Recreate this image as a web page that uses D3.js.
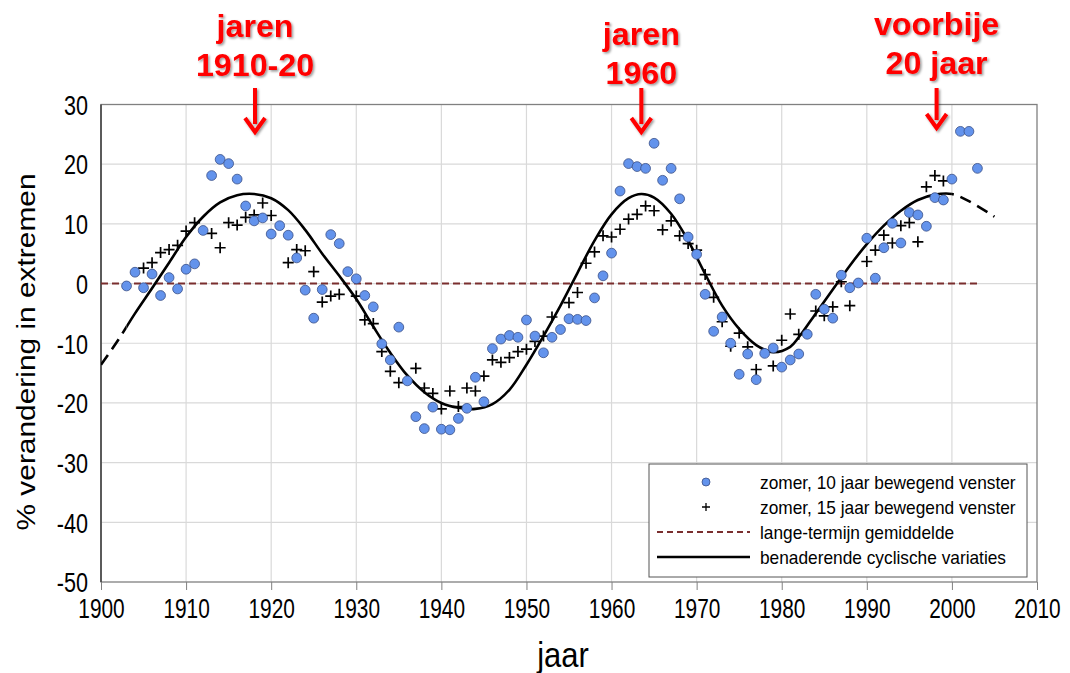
<!DOCTYPE html>
<html>
<head>
<meta charset="utf-8">
<script src="https://cdn.jsdelivr.net/npm/d3@7"></script>
<style>
  html, body { margin: 0; padding: 0; background: #ffffff; }
  svg { display: block; font-family: "Liberation Sans", Arial, sans-serif; }
</style>
</head>
<body>
<svg id="chart" width="1070" height="673"></svg>
<script>
// ---------- data ----------
const years10 = d3.range(1903, 2004);
const values10 = [
  -0.4, 1.9, -0.7, 1.6, -2.0, 1.0, -0.9, 2.4, 3.3, 8.9,        // 1903-1912
  18.1, 20.8, 20.1, 17.5, 13.0, 10.5, 11.0, 8.3, 9.7, 8.1,     // 1913-1922
  4.3, -1.1, -5.8, -1.0, 8.2, 6.7, 2.0, 0.8, -2.0, -3.9,       // 1923-1932
  -10.1, -12.8, -7.3, -16.3, -22.3, -24.3, -20.7, -24.4, -24.5, -22.6, // 1933-1942
  -20.9, -15.7, -19.8, -10.9, -9.3, -8.7, -9.0, -6.1, -8.8, -11.6,     // 1943-1952
  -9.0, -7.7, -5.9, -6.0, -6.2, -2.4, 1.3, 5.1, 15.5, 20.1,    // 1953-1962
  19.6, 19.3, 23.5, 17.3, 19.3, 14.2, 7.8, 4.9, -1.8, -8.0,    // 1963-1972
  -5.6, -10.0, -15.2, -11.8, -16.1, -11.7, -10.8, -14.0, -12.8, -11.8, // 1973-1982
  -8.5, -1.8, -4.3, -5.8, 1.4, -0.7, 0.1, 7.6, 0.9, 6.0,       // 1983-1992
  10.1, 6.8, 11.9, 11.5, 9.6, 14.4, 14.0, 17.5, 25.5, 25.5,    // 1993-2002
  19.3                                                          // 2003
];

const years15 = d3.range(1905, 2000);
const values15 = [
  2.6, 3.5, 5.2, 5.7, 6.4, 8.8, 10.2, null, 8.4, 6.0,          // 1905-1914
  10.2, 9.8, 11.1, 11.5, 13.5, 11.4, null, 3.5, 5.7, 5.5,      // 1915-1924
  2.0, -3.1, -2.1, -1.8, null, -2.1, -6.1, -6.7, -11.4, -14.7, // 1925-1934
  -16.6, null, -14.2, -17.5, -18.4, -21.0, -18.0, -20.6, -17.5, -18.0, // 1935-1944
  -15.5, -12.8, -13.2, -12.4, -11.4, -11.0, -9.7, -8.8, -5.6, null,    // 1945-1954
  -3.2, -1.5, 3.4, 5.3, 8.0, 7.8, 9.1, 10.8, 11.6, 13.0,       // 1955-1964
  12.2, 9.0, 10.5, 8.0, 6.7, 5.6, 1.5, -2.3, -6.4, -10.5,      // 1965-1974
  -8.3, -10.6, -14.4, null, -13.8, -9.5, -5.1, -8.5, null, -4.6, // 1975-1984
  -5.4, -3.9, 0.3, -3.7, null, 3.7, 5.6, 8.1, 6.8, 9.7,        // 1985-1994
  10.2, 7.0, 16.2, 18.1, 17.2                                   // 1995-1999
];

const cycleYears = [1900, 1902, 1904, 1906, 1908, 1910, 1912, 1914, 1916, 1918,
  1920, 1922, 1924, 1926, 1928, 1930, 1932, 1934, 1936, 1938, 1940, 1942, 1944,
  1946, 1948, 1950, 1952, 1954, 1956, 1958, 1960, 1962, 1963.5, 1965, 1967, 1969,
  1971, 1973, 1975, 1977, 1979, 1981, 1982, 1984, 1986, 1988, 1990, 1992, 1994,
  1996, 1998, 2000, 2002, 2005];
const cycleValues = [-13.6, -9.5, -5.0, -0.8, 3.5, 7.8, 11.2, 13.6, 14.8, 15.0,
  14.3, 12.3, 9.0, 5.0, 1.3, -2.6, -7.2, -11.6, -15.4, -18.2, -20.0, -20.8, -21.0,
  -20.2, -17.8, -13.6, -8.8, -3.7, 1.8, 7.2, 11.6, 14.3, 15.0, 14.4, 11.7, 7.2,
  1.6, -3.7, -7.6, -10.3, -11.5, -10.6, -9.0, -5.0, -1.0, 3.0, 6.6, 9.7, 12.2,
  14.0, 14.9, 15.0, 13.8, 11.2];
const cycleSolidRange = [1903, 2000];

const meanYears = [1900, 2003];
const meanValue = 0;

const xTicks = d3.range(1900, 2011, 10);
const yTicks = d3.range(-50, 31, 10);

const legendLabels = [
  "zomer, 10 jaar bewegend venster",
  "zomer, 15 jaar bewegend venster",
  "lange-termijn gemiddelde",
  "benaderende cyclische variaties"
];

const annoYears = [1918.1, 1963.5, 1998.2];
const annoLines = [["jaren", "1910-20"], ["jaren", "1960"], ["voorbije", "20 jaar"]];

const xTitle = "jaar";
const yTitle = "% verandering in extremen";

// ---------- layout ----------
const svg = d3.select("#chart");
const L = 101, R = 1037, T = 104.5, B = 582;
const x = d3.scaleLinear().domain([1900, 2010]).range([L, R]);
const y = d3.scaleLinear().domain([-50, 30]).range([B, T]);

const defs = svg.append("defs");
const shadow = defs.append("filter").attr("id", "shadow")
  .attr("x", "-20%").attr("y", "-20%").attr("width", "140%").attr("height", "140%");
shadow.append("feDropShadow").attr("dx", 1.5).attr("dy", 1.5)
  .attr("stdDeviation", 1).attr("flood-color", "#000").attr("flood-opacity", 0.4);

defs.append("clipPath").attr("id", "plotClip").append("rect")
  .attr("x", L).attr("y", T).attr("width", R - L).attr("height", B - T);
defs.append("clipPath").attr("id", "solidClip").append("rect")
  .attr("x", x(cycleSolidRange[0])).attr("y", 0)
  .attr("width", x(cycleSolidRange[1]) - x(cycleSolidRange[0])).attr("height", 673);
const dashClip = defs.append("clipPath").attr("id", "dashClip");
dashClip.append("rect").attr("x", 0).attr("y", 0)
  .attr("width", x(cycleSolidRange[0])).attr("height", 673);
dashClip.append("rect").attr("x", x(cycleSolidRange[1])).attr("y", 0)
  .attr("width", 1070 - x(cycleSolidRange[1])).attr("height", 673);

// gridlines
const grid = svg.append("g");
grid.selectAll("line.v").data(xTicks.slice(1, -1)).join("line")
  .attr("x1", d => x(d)).attr("x2", d => x(d)).attr("y1", T).attr("y2", B)
  .attr("stroke", "#d9d9d9").attr("stroke-width", 1.2);
grid.selectAll("line.h").data(yTicks.slice(1, -1)).join("line")
  .attr("x1", L).attr("x2", R).attr("y1", d => y(d)).attr("y2", d => y(d))
  .attr("stroke", "#d9d9d9").attr("stroke-width", 1.2);

const fmt = d => String(d);  // plain hyphen-minus as in the original

// x axis
const xAxis = svg.append("g").attr("transform", `translate(0,${B})`)
  .call(d3.axisBottom(x).tickValues(xTicks).tickFormat(fmt).tickSize(8).tickPadding(8));
xAxis.select(".domain").remove();
xAxis.selectAll(".tick line").attr("stroke", "#808080");
xAxis.selectAll(".tick text")
  .attr("font-size", 24).attr("fill", "#000")
  .attr("font-family", "Liberation Sans, Arial, sans-serif")
  .attr("y", 0).attr("dy", "0.72em")
  .attr("transform", "translate(0,16) scale(0.87,1.13)");

// y axis
const yAxis = svg.append("g").attr("transform", `translate(${L},0)`)
  .call(d3.axisLeft(y).tickValues(yTicks).tickFormat(fmt).tickSize(0).tickPadding(0));
yAxis.select(".domain").remove();
yAxis.selectAll(".tick text")
  .attr("font-size", 24).attr("fill", "#000")
  .attr("font-family", "Liberation Sans, Arial, sans-serif")
  .attr("x", 0).attr("dy", "0.36em")
  .attr("transform", "translate(-13,0) scale(0.9,1.13)");

// plot border
svg.append("rect").attr("x", L).attr("y", T).attr("width", R - L).attr("height", B - T)
  .attr("fill", "none").attr("stroke", "#808080").attr("stroke-width", 1.3);
svg.append("line").attr("x1", L).attr("x2", L).attr("y1", T).attr("y2", B)
  .attr("stroke", "#404040").attr("stroke-width", 1.5);

// mean line
svg.append("line")
  .attr("x1", x(meanYears[0])).attr("x2", x(meanYears[1]))
  .attr("y1", y(meanValue)).attr("y2", y(meanValue))
  .attr("stroke", "#7a2e2e").attr("stroke-width", 2).attr("stroke-dasharray", "7,4");

// cyclic curve
const cycleData = cycleYears.map((d, i) => [d, cycleValues[i]]);
const lineGen = d3.line().x(d => x(d[0])).y(d => y(d[1])).curve(d3.curveCatmullRom.alpha(0.5));
const plotG = svg.append("g").attr("clip-path", "url(#plotClip)");
plotG.append("path").datum(cycleData).attr("d", lineGen)
  .attr("fill", "none").attr("stroke", "#000").attr("stroke-width", 2.6)
  .attr("clip-path", "url(#solidClip)");
plotG.append("g").attr("clip-path", "url(#dashClip)")
  .append("path").datum(cycleData).attr("d", lineGen)
  .attr("fill", "none").attr("stroke", "#000").attr("stroke-width", 2.6)
  .attr("stroke-dasharray", "12,7");

// crosses (15 yr)
const crossData = years15.map((d, i) => [d, values15[i]]).filter(d => d[1] !== null);
const cs = 5.5;
svg.append("g").selectAll("path").data(crossData).join("path")
  .attr("d", d => `M${x(d[0]) - cs},${y(d[1])}H${x(d[0]) + cs}M${x(d[0])},${y(d[1]) - cs}V${y(d[1]) + cs}`)
  .attr("stroke", "#000").attr("stroke-width", 1.7).attr("fill", "none");

// circles (10 yr)
const circData = years10.map((d, i) => [d, values10[i]]);
svg.append("g").selectAll("circle").data(circData).join("circle")
  .attr("cx", d => x(d[0])).attr("cy", d => y(d[1])).attr("r", 4.9)
  .attr("fill", "#6393ec").attr("stroke", "#3a4f86").attr("stroke-width", 0.8);

// legend
const lg = svg.append("g");
lg.append("rect").attr("x", 649).attr("y", 464).attr("width", 378).attr("height", 113)
  .attr("fill", "#fff").attr("stroke", "#555").attr("stroke-width", 1);
const rowY = [482, 507, 532, 557];
lg.append("circle").attr("cx", 706).attr("cy", rowY[0]).attr("r", 4)
  .attr("fill", "#6393ec").attr("stroke", "#3a4f86").attr("stroke-width", 0.8);
lg.append("path").attr("d", `M${706 - 4},${rowY[1]}H${706 + 4}M706,${rowY[1] - 4}V${rowY[1] + 4}`)
  .attr("stroke", "#000").attr("stroke-width", 1.3);
lg.append("line").attr("x1", 657).attr("x2", 750).attr("y1", rowY[2]).attr("y2", rowY[2])
  .attr("stroke", "#7a2e2e").attr("stroke-width", 2).attr("stroke-dasharray", "6,4");
lg.append("line").attr("x1", 657).attr("x2", 750).attr("y1", rowY[3]).attr("y2", rowY[3])
  .attr("stroke", "#000").attr("stroke-width", 2.4);
lg.selectAll("text").data(legendLabels).join("text")
  .attr("transform", (d, i) => `translate(760,${rowY[i]}) scale(1,1.1)`)
  .attr("dy", "0.35em")
  .attr("font-size", 17.3).attr("fill", "#000").text(d => d);

// axis titles
svg.append("text").attr("transform", "translate(563,667) scale(1,1.12)")
  .attr("text-anchor", "middle").attr("font-size", 31).attr("fill", "#000").text(xTitle);
svg.append("text").attr("transform", "translate(35,352) rotate(-90) scale(1.15,1)")
  .attr("text-anchor", "middle").attr("font-size", 26).attr("fill", "#000").text(yTitle);

// annotations
const lineBase = [[37, 76], [45, 84], [35, 74]];
const arrowTip = [132, 132, 128];
const ag = svg.append("g");
annoYears.forEach((yr, i) => {
  const cx = x(yr);
  annoLines[i].forEach((s, j) => {
    ag.append("text").attr("transform", `translate(${cx},${lineBase[i][j]}) scale(1.04,1.04)`)
      .attr("text-anchor", "middle").attr("fill", "#ff0000")
      .attr("font-size", 31).attr("font-weight", "bold").attr("filter", "url(#shadow)")
      .text(s);
  });
  const g = ag.append("g").attr("filter", "url(#shadow)");
  g.append("line").attr("x1", cx).attr("x2", cx).attr("y1", 88).attr("y2", arrowTip[i] - 8)
    .attr("stroke", "#ff0000").attr("stroke-width", 4);
  g.append("path").attr("d", `M${cx - 10},${arrowTip[i] - 14}L${cx},${arrowTip[i]}L${cx + 10},${arrowTip[i] - 14}`)
    .attr("fill", "none").attr("stroke", "#ff0000").attr("stroke-width", 4).attr("stroke-linejoin", "miter");
});
</script>
</body>
</html>
